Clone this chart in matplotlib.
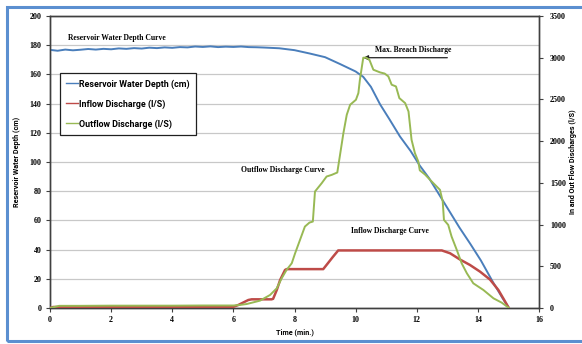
import matplotlib
matplotlib.use("Agg")
import matplotlib.pyplot as plt
from matplotlib.patches import Rectangle
from matplotlib.font_manager import FontProperties

# ---- data ----
depth_time = [0, 0.25, 0.5, 0.75, 1.0, 1.25, 1.5, 1.75, 2.0, 2.25, 2.5, 2.75, 3.0, 3.25,
              3.5, 3.75, 4.0, 4.25, 4.5, 4.75, 5.0, 5.25, 5.5, 5.75, 6.0, 6.25, 6.5,
              6.75, 7.0, 7.5, 8.0, 8.5, 9.0, 9.5, 10.0, 10.25, 10.5, 10.8, 11.1, 11.45,
              11.8, 12.1, 12.4, 12.9, 13.4, 13.75, 14.1, 14.5, 14.8, 15.0]
depth_cm = [176.8, 176.2, 177.0, 176.5, 176.9, 177.4, 177.0, 177.5, 177.2, 177.8, 177.5,
            178.0, 177.7, 178.3, 178.0, 178.5, 178.2, 178.7, 178.5, 179.1, 178.8, 179.2,
            178.7, 179.0, 178.8, 179.1, 178.7, 178.6, 178.4, 177.9, 176.6, 174.3, 171.8,
            167.0, 162.0, 158.3, 151.5, 139.5, 129.5, 117.5, 107.5, 97.5, 89.0, 72.0,
            55.0, 44.0, 32.5, 17.5, 7.0, 0.5]

outflow_time = [0, 0.3, 1.0, 2.0, 3.0, 4.0, 5.0, 6.0, 6.2, 6.44, 6.87, 7.2, 7.42, 7.58,
                7.74, 7.91, 8.02, 8.18, 8.34, 8.49, 8.6, 8.67, 8.89, 9.05, 9.22, 9.4,
                9.49, 9.6, 9.71, 9.82, 10.01, 10.09, 10.14, 10.25, 10.35, 10.45, 10.58,
                10.8, 10.95, 11.07, 11.18, 11.32, 11.43, 11.62, 11.73, 11.83, 11.94,
                12.05, 12.1, 12.27, 12.49, 12.76, 12.85, 12.89, 13.03, 13.14, 13.31,
                13.47, 13.64, 13.85, 14.18, 14.51, 14.78, 15.0]
outflow_ls = [0, 26, 26, 28, 28, 28, 30, 30, 36, 48, 88, 156, 236, 356, 456, 536, 656,
              816, 976, 1024, 1036, 1396, 1496, 1576, 1596, 1624, 1836, 2096, 2316, 2436,
              2496, 2576, 2736, 3000, 3000, 2976, 2856, 2824, 2810, 2776, 2676, 2656,
              2516, 2456, 2356, 2016, 1856, 1756, 1650, 1600, 1516, 1416, 1276, 1056,
              996, 856, 696, 536, 416, 296, 216, 116, 64, 5]

inflow_time = [0, 0.1, 2.0, 4.0, 6.0, 6.16, 6.49, 6.6, 7.25, 7.3, 7.42, 7.53, 7.69, 7.74,
               8.94, 9.1, 9.25, 9.43, 12.82, 13.09, 13.42, 13.74, 14.07, 14.4, 14.67,
               14.83, 15.0]
inflow_ls = [0, 12, 14, 14, 14, 36, 96, 104, 104, 110, 216, 336, 456, 466, 466, 540, 610,
             690, 690, 656, 580, 516, 436, 340, 216, 116, 8]

x_ticks = [0, 2, 4, 6, 8, 10, 12, 14, 16]
left_ticks = list(range(0, 201, 20))
right_ticks = list(range(0, 3501, 500))

BLUE = "#4a7ebb"
RED = "#be4b48"
GREEN = "#98b954"

fig = plt.figure(figsize=(5.82, 3.44), dpi=100)
fig.patch.set_facecolor("white")

# outer blue frame
fig.patches.append(Rectangle((7 / 582, 3 / 344), 1.2, 334 / 344, transform=fig.transFigure,
                             fill=False, edgecolor="#5b8fd0", linewidth=2.2, zorder=0))

ax = fig.add_axes([50 / 582, 36 / 344, 489 / 582, 292 / 344])
ax2 = ax.twinx()

ax.set_xlim(0, 16)
ax.set_ylim(0, 200)
ax2.set_ylim(0, 3500)
ax.set_xticks(x_ticks)
ax.set_yticks(left_ticks)
ax2.set_yticks(right_ticks)

ax.grid(axis="y", color="#c8c8c8", linewidth=0.9)
ax.set_axisbelow(True)

for a in (ax, ax2):
    for s in a.spines.values():
        s.set_color("#404040")
        s.set_linewidth(1.0)

tick_font = FontProperties(family="Liberation Serif", weight="bold", size=5.8)
ax.tick_params(axis="both", direction="out", length=3, width=0.8, color="#404040")
ax2.tick_params(axis="y", direction="out", length=3, width=0.8, color="#404040", pad=5)
ax.tick_params(axis="x", pad=3)
ax.tick_params(axis="y", pad=3)
for lab in ax.get_xticklabels() + ax.get_yticklabels() + ax2.get_yticklabels():
    lab.set_fontproperties(tick_font)

l1, = ax.plot(depth_time, depth_cm, color=BLUE, linewidth=1.4, zorder=3,
              label="Reservoir Water Depth (cm)")
l2, = ax2.plot(inflow_time, inflow_ls, color=RED, linewidth=1.8, zorder=3,
               label="Inflow Discharge (l/S)")
l3, = ax2.plot(outflow_time, outflow_ls, color=GREEN, linewidth=1.4, zorder=4,
               label="Outflow Discharge (l/S)")

lab_font = dict(family="Roboto", weight="bold", size=5.2)
ax.set_xlabel("Time (min.)", fontdict=lab_font, labelpad=3)
ax.set_ylabel("Reservoir Water Depth (cm)", fontdict=lab_font, labelpad=6)
ax2.set_ylabel("In and Out Flow Discharges (l/S)", fontdict=lab_font, labelpad=2)

leg = ax2.legend(handles=[l1, l2, l3], loc="upper left", bbox_to_anchor=(0.02, 0.805),
                 prop=dict(family="Roboto", weight="bold", size=6.4), frameon=True,
                 fancybox=False, edgecolor="#202020", framealpha=1, labelspacing=1.2,
                 handlelength=1.3, handletextpad=0.2, borderpad=0.7, borderaxespad=0)
leg.get_frame().set_linewidth(0.9)
for h in leg.get_lines():
    h.set_linewidth(1.0)
leg.set_zorder(10)

ann_font = dict(family="Liberation Serif", weight="bold", size=5.5)
ax.text(2.2, 185, "Reservoir Water Depth Curve", ha="center", va="center", **ann_font)
ax.text(7.62, 94.5, "Outflow Discharge Curve", ha="center", va="center", **ann_font)
ax.text(11.13, 52.7, "Inflow Discharge Curve", ha="center", va="center", **ann_font)
ax2.annotate("", xy=(10.25, 3000), xytext=(13.0, 3000),
             arrowprops=dict(arrowstyle="-|>", color="#202020", lw=0.9,
                             mutation_scale=7, shrinkA=0, shrinkB=0))
ax2.text(10.62, 3040, "Max. Breach Discharge", ha="left", va="bottom", **ann_font)

fig.savefig("out.png", dpi=100)
